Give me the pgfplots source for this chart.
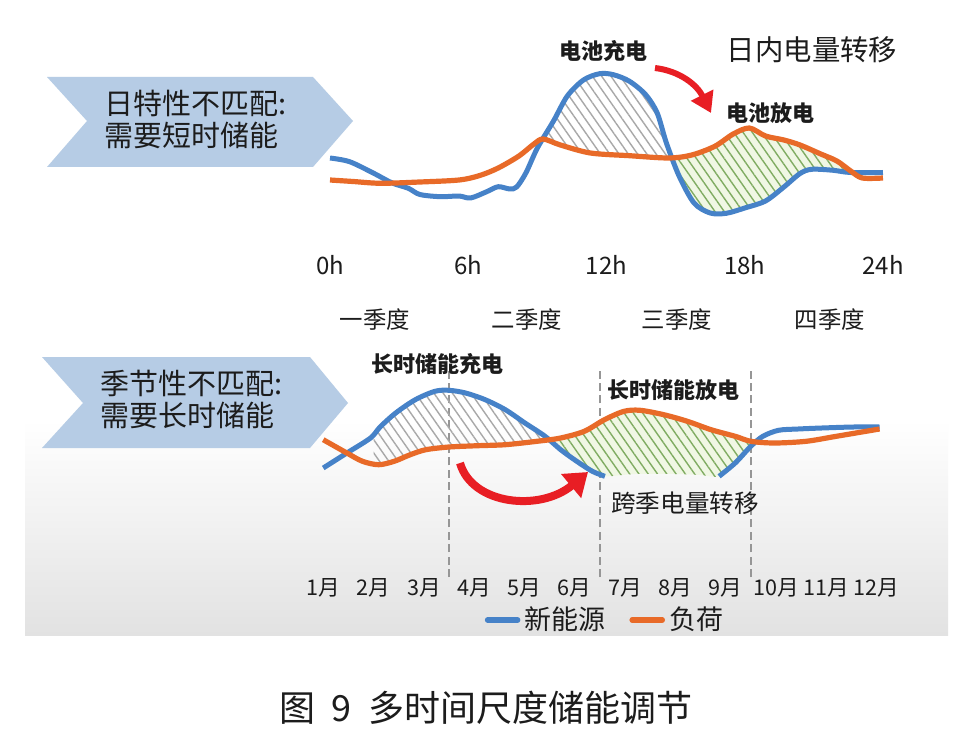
\documentclass[border=0pt]{standalone}
\usepackage{fontspec}
\setmainfont{Noto Sans CJK SC}
\usepackage{pgfplots}
\usepackage{pgfplotstable}
\pgfplotsset{compat=1.18}
\usepgfplotslibrary{fillbetween}
\usetikzlibrary{patterns.meta,arrows.meta}

\definecolor{nblue}{RGB}{70,130,200}
\definecolor{norange}{RGB}{232,106,40}
\definecolor{chev}{RGB}{182,204,229}
\definecolor{hatchgray}{RGB}{168,168,168}
\definecolor{hatchgreen}{RGB}{128,172,98}
\definecolor{fillgreen}{RGB}{240,247,228}
\definecolor{arrowred}{RGB}{232,30,36}
\definecolor{dashc}{RGB}{150,150,150}
\definecolor{basegray}{RGB}{212,212,212}
\definecolor{bgg}{RGB}{226,226,226}
\definecolor{txt}{RGB}{28,28,28}

\newcommand{\fs}[1]{\fontsize{#1}{#1}\selectfont}

% ---- daily (hours, relative power) ----
\pgfplotstableread{
h p
0 75
0.85 71.3
1.9 59.7
2.7 50
3.4 44.7
3.9 38.5
4.8 36.3
5.6 37
6.1 35
6.8 41.3
7.3 46.3
7.8 44
8.1 46
8.5 60
9.0 85
9.7 112
10.3 137
11 153
11.7 159.3
12.3 158.3
13 151.7
13.7 138.3
14.2 120
14.6 90
15.15 57
15.8 30
16.5 20
17.2 19.7
18.0 25
18.9 32
19.7 46
20.4 59.5
20.9 63.7
21.8 62.8
22.6 60.5
24 60.5
}\topblue

\pgfplotstableread{
h p
0 53
1 51.5
2.2 49.7
3.9 51
5.6 53
6.5 57.5
7.3 65
8.2 77
8.85 89
9.25 94
10 88
11.3 80
13 77.3
14.7 75
15.7 78
16.7 86.7
17.5 99
18.2 105
18.9 97
19.7 93
20.4 88
21.3 79
22 72
22.6 62
23.1 55
24 55
}\toporange

% ---- seasonal (months, relative power) ----
\pgfplotstableread{
m p
1.0 85
1.47 100
1.94 115
2.13 126
2.44 140
2.83 153.3
3.22 161.7
3.5 162.7
3.83 160
4.22 153.3
4.62 143.3
5.01 130
5.41 116.7
5.72 103.3
6.04 91.7
6.35 81.7
6.6 76.7
}\botblueA

\pgfplotstableread{
m p
8.87 76.7
9.19 90
9.5 106.7
9.74 116.7
10.05 122.7
10.44 124
10.91 125
11.54 126
12.06 126
}\botblueB

\pgfplotstableread{
m p
1.0 85
1.47 100
1.94 115
2.13 126
2.44 140
2.83 153.3
3.22 161.7
3.5 162.7
3.83 160
4.22 153.3
4.62 143.3
5.01 130
5.41 116.7
5.72 103.3
6.04 91.7
6.35 81.7
6.6 76.7
7.2 79
8.0 79
8.5 78
8.87 76.7
9.19 90
9.5 106.7
9.74 116.7
10.05 122.7
10.44 124
10.91 125
11.54 126
12.06 126
}\botbluefull

\pgfplotstableread{
m p
1.0 113.3
1.47 100
1.78 91.7
2.1 88.3
2.41 91.7
2.73 98.3
3.04 103.3
3.5 106
4.07 107.3
4.62 108.3
5.25 111.7
5.72 115
6.19 121.7
6.59 133.3
6.98 141.7
7.3 142.7
7.77 138.3
8.24 131.7
8.71 123.3
9.19 116.7
9.5 111.7
9.97 110
10.6 111.7
11.2 116.7
12.06 124
}\botorange

\begin{document}
\begin{tikzpicture}
\begin{scope}[x=0.5pt,y=-0.5pt]
\useasboundingbox (0,0) rectangle (967,754);
\fill[white] (0,0) rectangle (967,754);
\shade[top color=white, bottom color=bgg] (25,420) rectangle (948,635);
\fill[chev] (47,77) -- (313,77) -- (353,121) -- (313,167) -- (47,167) -- (87,121) -- cycle;
\fill[chev] (42,357) -- (310,357) -- (348,403) -- (310,448) -- (42,448) -- (83,403) -- cycle;
\node[anchor=west, text=txt, font=\fs{14.5}, inner sep=0pt] at (104,103) {日特性不匹配:};
\node[anchor=west, text=txt, font=\fs{14.5}, inner sep=0pt] at (104,135) {需要短时储能};
\node[anchor=west, text=txt, font=\fs{14.5}, inner sep=0pt] at (100,383) {季节性不匹配:};
\node[anchor=west, text=txt, font=\fs{14.5}, inner sep=0pt] at (100,415) {需要长时储能};
\node[text=txt, font=\fs{11.7}] at (375,320) {一季度};
\node[text=txt, font=\fs{11.7}] at (527,320) {二季度};
\node[text=txt, font=\fs{11.7}] at (677,320) {三季度};
\node[text=txt, font=\fs{11.7}] at (830,320) {四季度};
\end{scope}

% ---- daily axis ----
\begin{axis}[
  at={({323.1*0.5pt},{-233*0.5pt})}, anchor=south west,
  x=11.52pt, y=0.5pt,
  xmin=-0.3, xmax=24.3, ymin=0, ymax=175,
  axis x line=bottom, axis y line=none,
  x axis line style={-, draw=basegray, line width=1pt},
  xtick={0,6,12,18,24}, xticklabels={0h,6h,12h,18h,24h},
  major tick length=0pt,
  xticklabel style={font=\fs{12}, text=txt, anchor=center, yshift=-16pt},
  clip=false,
]
\addplot[draw=none, name path=tb, smooth, forget plot] table {\topblue};
\addplot[draw=none, name path=to, smooth, forget plot] table {\toporange};
\addplot[pattern={Lines[angle=-55,distance=3.8pt,line width=0.7pt]}, pattern color=hatchgray, forget plot]
  fill between[of=tb and to, soft clip={domain=9.2:14.85}, on layer=main];
\addplot[fill=fillgreen, draw=none, forget plot]
  fill between[of=tb and to, soft clip={domain=14.85:22.55}, on layer=main];
\addplot[pattern={Lines[angle=-55,distance=3.8pt,line width=0.7pt]}, pattern color=hatchgreen, forget plot]
  fill between[of=tb and to, soft clip={domain=14.85:22.55}, on layer=main];
\addplot[nblue, line width=2.5pt, smooth, line join=round] table {\topblue};
\addplot[norange, line width=2.6pt, smooth, line join=round] table {\toporange};
\end{axis}

% ---- seasonal axis ----
\begin{axis}[
  at={({300*0.5pt},{-553*0.5pt})}, anchor=south west,
  x=25.15pt, y=0.5pt,
  xmin=0.538, xmax=12.76, ymin=0, ymax=200,
  axis x line=bottom, axis y line=none,
  x axis line style={-, draw=basegray, line width=1pt},
  xtick={1,2,3,4,5,6,7,8,9,10,11,12},
  xticklabels={1月,2月,3月,4月,5月,6月,7月,8月,9月,10月,11月,12月},
  major tick length=0pt,
  xticklabel style={font=\fs{10.8}, text=txt, anchor=center, yshift=-17.5pt},
  clip=false,
  legend style={at={(0.4976,-0.335)}, anchor=center, draw=none, fill=none,
    font=\fs{13.5}, text=txt, legend columns=2,
    /tikz/every even column/.append style={column sep=10pt}},
  legend image code/.code={\draw[#1, line width=2.8pt, line cap=round] (0pt,0pt) -- (15pt,0pt);},
]
\draw[dashc, line width=1.1pt, dash pattern=on 4pt off 2.2pt] (axis cs:3.5,-24) -- (axis cs:3.5,185);
\draw[dashc, line width=1.1pt, dash pattern=on 4pt off 2.2pt] (axis cs:6.5,-24) -- (axis cs:6.5,185);
\draw[dashc, line width=1.1pt, dash pattern=on 4pt off 2.2pt] (axis cs:9.5,-24) -- (axis cs:9.5,185);
\addplot[draw=none, name path=bb, smooth, forget plot] table {\botbluefull};
\addplot[draw=none, name path=bo, smooth, forget plot] table {\botorange};
\addplot[pattern={Lines[angle=-55,distance=3.8pt,line width=0.7pt]}, pattern color=hatchgray, forget plot]
  fill between[of=bb and bo, soft clip={domain=2.0:5.5}, on layer=main];
\addplot[fill=fillgreen, draw=none, forget plot]
  fill between[of=bb and bo, soft clip={domain=5.5:9.6}, on layer=main];
\addplot[pattern={Lines[angle=-55,distance=3.8pt,line width=0.7pt]}, pattern color=hatchgreen, forget plot]
  fill between[of=bb and bo, soft clip={domain=5.5:9.6}, on layer=main];
\addplot[nblue, line width=2.5pt, smooth, line join=round] table {\botblueA};
\addlegendentry{新能源}
\addplot[nblue, line width=2.5pt, smooth, line join=round, forget plot] table {\botblueB};
\addplot[norange, line width=2.6pt, smooth, line join=round] table {\botorange};
\addlegendentry{负荷}
\end{axis}

\begin{scope}[x=0.5pt,y=-0.5pt]
\draw[arrowred, line width=3pt, -{Triangle[length=10pt,width=12pt]}] (655,68) .. controls (680,71) and (697,85) .. (711,113);
\draw[arrowred, line width=4pt, -{Triangle[length=11pt,width=15pt]}] (460,463) .. controls (472,505) and (540,512) .. (588,472);
\node[text=txt, font=\bfseries\fs{11}] at (603,51) {电池充电};
\node[text=txt, font=\fs{14.2}] at (812,50) {日内电量转移};
\node[text=txt, font=\bfseries\fs{11}] at (770,113) {电池放电};
\node[text=txt, font=\bfseries\fs{11}] at (437,364) {长时储能充电};
\node[text=txt, font=\bfseries\fs{11}] at (673,390) {长时储能放电};
\node[text=txt, font=\fs{12.3}] at (685,503) {跨季电量转移};
\node[text=txt, font=\fs{18}] at (486,708) {图\hspace{0.45em}9\hspace{0.45em}多时间尺度储能调节};
\end{scope}
\end{tikzpicture}
\end{document}
